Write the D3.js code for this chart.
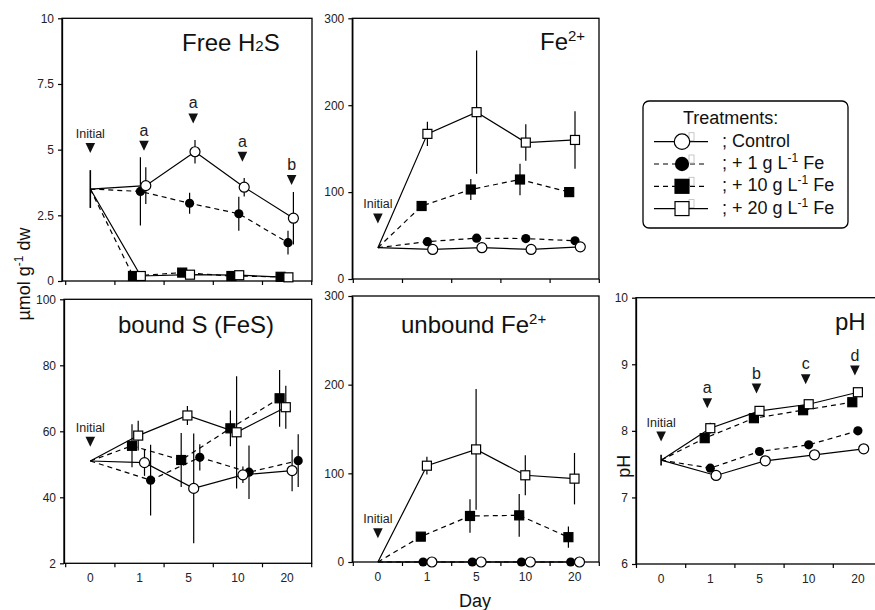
<!DOCTYPE html>
<html><head><meta charset="utf-8">
<script src="https://cdn.jsdelivr.net/npm/d3@7"></script>
<style>
body{margin:0;background:#fff}
svg{font-family:"Liberation Sans",Arial,sans-serif}
</style></head><body>
<svg width="875" height="610"></svg>
<script>
'use strict';
// categories
const days = ["0", "1", "5", "10", "20"]
const seriesKeys = ["control", "fe1", "fe10", "fe20"]
const seriesLabels = ["Control", "+ 1 g L", "+ 10 g L", "+ 20 g L"]

// Free H2S (umol g-1 dw)
const h2sInit = 3.5, h2sInitErr = 0.72
const h2sControl = [3.63, 4.92, 3.57, 2.39], h2sControlErr = [0.7, 0.45, 0.35, 1.0]
const h2sFe1 = [3.41, 2.96, 2.56, 1.46], h2sFe1Err = [1.3, 0.4, 0.65, 0.45]
const h2sFe10 = [0.19, 0.32, 0.19, 0.16], h2sFe10Err = [0.04, 0.04, 0.04, 0.03]
const h2sFe20 = [0.19, 0.24, 0.22, 0.14], h2sFe20Err = [0.04, 0.04, 0.04, 0.03]
const h2sLetters = ["a", "a", "a", "b"]
const h2sArrowAt = [4.96, 6.0, 4.54, 3.65], h2sInitArrowAt = 4.87

// Fe2+
const fe2Init = 36
const fe2Control = [34, 36, 34, 37], fe2ControlErr = [3, 3, 3, 3]
const fe2Fe1 = [43, 47, 46.5, 44], fe2Fe1Err = [3, 3, 3, 3]
const fe2Fe10 = [84, 103, 114.5, 100], fe2Fe10Err = [5, 12, 18, 4]
const fe2Fe20 = [167, 192, 157, 160], fe2Fe20Err = [14, 71, 21, 33]
const fe2InitArrowAt = 64

// bound S (FeS)
const boundInit = 51
const boundControl = [50.5, 42.7, 46.8, 48.1], boundControlErr = [4, 16.6, 2.5, 6.3]
const boundFe1 = [45.2, 52.1, 47.6, 51.1], boundFe1Err = [10.7, 4, 8.1, 8]
const boundFe10 = [55.6, 51.3, 60.9, 70.0], boundFe10Err = [6.5, 8.2, 5.4, 8.6]
const boundFe20 = [58.7, 64.8, 59.7, 67.3], boundFe20Err = [4.5, 2.9, 17, 6.5]
const boundInitArrowAt = 55.3

// unbound Fe2+
const unbInit = 0
const unbControl = [0, 0, 0, 0], unbControlErr = [0, 0, 0, 0]
const unbFe1 = [0, 0, 0, 0], unbFe1Err = [0, 0, 0, 0]
const unbFe10 = [28.6, 51.9, 52.6, 28], unbFe10Err = [4, 19, 24, 12]
const unbFe20 = [108.6, 127, 97.8, 94], unbFe20Err = [10, 68, 22.5, 29]
const unbInitArrowAt = 26.7

// pH
const phInit = 7.56, phInitErr = 0.08
const phControl = [7.33, 7.55, 7.64, 7.73], phControlErr = [0.03, 0.03, 0.03, 0.03]
const phFe1 = [7.44, 7.69, 7.79, 8.0], phFe1Err = [0.03, 0.03, 0.03, 0.03]
const phFe10 = [7.89, 8.19, 8.31, 8.43], phFe10Err = [0.03, 0.03, 0.03, 0.03]
const phFe20 = [8.04, 8.30, 8.40, 8.58], phFe20Err = [0.08, 0.04, 0.04, 0.04]
const phLetters = ["a", "b", "c", "d"]
const phArrowAt = [8.34, 8.56, 8.70, 8.83], phInitArrowAt = 7.84

const eSvg = d3.select("svg")
const bw = 49.2
const FONT = 12

// series draw order & styles
const drawOrder = ["fe10", "fe20", "fe1", "control"]
const dashOf = {control: null, fe1: "5,4", fe10: "5,4", fe20: null}

function marker(g, key, cx, cy, k) {
	k = k || 1
	if (key === "control")
		g.append("circle").attr("cx", cx).attr("cy", cy).attr("r", 5 * k)
			.attr("fill", "#fff").attr("stroke", "#000").attr("stroke-width", 1.2)
	else if (key === "fe1")
		g.append("circle").attr("cx", cx).attr("cy", cy).attr("r", 4.6 * k).attr("fill", "#000")
	else {
		let s = 9 * k
		g.append("rect").attr("x", cx - s/2).attr("y", cy - s/2).attr("width", s).attr("height", s)
			.attr("fill", key === "fe10" ? "#000" : "#fff")
			.attr("stroke", "#000").attr("stroke-width", 1.2)}}

const panels = [
	{init: h2sInit, initErr: h2sInitErr,
		vals: {control: h2sControl, fe1: h2sFe1, fe10: h2sFe10, fe20: h2sFe20},
		errs: {control: h2sControlErr, fe1: h2sFe1Err, fe10: h2sFe10Err, fe20: h2sFe20Err},
		yDomain: [0, 10], yTicks: [0, 2.5, 5, 7.5, 10], yFmt: d => d,
		ax: 62, bx: 65.7, top: 18.3, bottom: 281, right: 312, xLabels: false,
		dodge: {control: 6.3, fe1: 0.9, fe10: -6.5, fe20: 1.3},
		title: [["Free H", 24, 0], ["2", 15, 0], ["S", 24, 0]], tx: 182, ty: 51,
		initArrow: h2sInitArrowAt, arrows: h2sArrowAt, letters: h2sLetters, arrowDx: 4.5},
	{init: fe2Init, initErr: 0,
		vals: {control: fe2Control, fe1: fe2Fe1, fe10: fe2Fe10, fe20: fe2Fe20},
		errs: {control: fe2ControlErr, fe1: fe2Fe1Err, fe10: fe2Fe10Err, fe20: fe2Fe20Err},
		yDomain: [0, 300], yTicks: [0, 100, 200, 300], yFmt: d => d,
		ax: 352.3, bx: 353.3, top: 18.3, bottom: 279, right: 599, xLabels: false,
		dodge: {control: 5.6, fe1: 0.3, fe10: -5.5, fe20: 0.3},
		title: [["Fe", 24, 0], ["2+", 15, -9]], tx: 540, ty: 50,
		initArrow: fe2InitArrowAt},
	{init: boundInit, initErr: 0,
		vals: {control: boundControl, fe1: boundFe1, fe10: boundFe10, fe20: boundFe20},
		errs: {control: boundControlErr, fe1: boundFe1Err, fe10: boundFe10Err, fe20: boundFe20Err},
		yDomain: [20, 100], yTicks: [20, 40, 60, 80, 100], yFmt: d => d === 20 ? "2" : d,
		ax: 64, bx: 65.7, top: 299.3, bottom: 563.3, right: 311.7, xLabels: true,
		dodge: {control: 5, fe1: 11.1, fe10: -7.5, fe20: -1.3},
		title: [["bound S (FeS)", 24, 0]], tx: 118, ty: 333,
		initArrow: boundInitArrowAt},
	{init: unbInit, initErr: 0,
		vals: {control: unbControl, fe1: unbFe1, fe10: unbFe10, fe20: unbFe20},
		errs: {control: unbControlErr, fe1: unbFe1Err, fe10: unbFe10Err, fe20: unbFe20Err},
		yDomain: [0, 300], yTicks: [0, 100, 200, 300], yFmt: d => d,
		ax: 352.3, bx: 353.3, top: 296, bottom: 562, right: 599, xLabels: true,
		dodge: {control: 4.8, fe1: -4, fe10: -6.3, fe20: -0.2},
		title: [["unbound Fe", 24, 0], ["2+", 15, -9]], tx: 401, ty: 333,
		initArrow: unbInitArrowAt},
	{init: phInit, initErr: phInitErr,
		vals: {control: phControl, fe1: phFe1, fe10: phFe10, fe20: phFe20},
		errs: {control: phControlErr, fe1: phFe1Err, fe10: phFe10Err, fe20: phFe20Err},
		yDomain: [6, 10], yTicks: [6, 7, 8, 9, 10], yFmt: d => d,
		ax: 636, bx: 636.5, top: 297.7, bottom: 564, right: 884, xLabels: true,
		dodge: {control: 5.8, fe1: 0, fe10: -5.6, fe20: 0},
		title: [["pH", 24, 0]], tx: 835, ty: 330,
		initArrow: phInitArrowAt, arrows: phArrowAt, letters: phLetters, arrowDx: -3,
		yTitle: "pH"}
]

function triangle(g, cx, tipY) {
	g.append("path").attr("d", `M${cx - 4.8},${tipY - 10}L${cx + 4.8},${tipY - 10}L${cx},${tipY}Z`).attr("fill", "#111")}

function drawPanel(p) {
	let g = eSvg.append("g")
	let x = d3.scaleBand().domain(days).range([p.bx, p.bx + bw * days.length])
	let y = d3.scaleLinear().domain(p.yDomain).range([p.bottom, p.top])
	let cx = d => x(d) + x.bandwidth() / 2

	// frame
	g.append("rect").attr("x", p.ax).attr("y", p.top)
		.attr("width", p.right - p.ax).attr("height", p.bottom - p.top)
		.attr("fill", "none").attr("stroke", "#000").attr("stroke-width", 1.3)

	// y axis
	let gy = g.append("g").attr("transform", `translate(${p.ax},0)`)
		.call(d3.axisLeft(y).tickValues(p.yTicks).tickFormat(p.yFmt).tickSize(4).tickPadding(4).tickSizeOuter(0))
	// x axis: labels at band centres (bottom row only), ticks at band edges
	let gx = g.append("g").attr("transform", `translate(0,${p.bottom})`)
		.call(d3.axisBottom(x).tickSize(0).tickPadding(10))
	gx.select(".domain").remove()
	if (!p.xLabels) gx.selectAll(".tick").remove()
	let edges = d3.range(days.length + 1).map(i => p.bx + i * bw)
	gx.selectAll(".edge").data(edges).enter().append("line")
		.attr("x1", d => d).attr("x2", d => d).attr("y1", 0).attr("y2", 4)
		.attr("stroke", "#000").attr("stroke-width", 1.2)
	g.selectAll(".tick text").attr("font-size", FONT).attr("fill", "#222")
		.attr("font-family", "Liberation Sans, Arial, sans-serif")
	gy.select(".domain").attr("stroke-width", 1.3)
	gy.selectAll(".tick line").attr("stroke-width", 1.2)

	let x0 = cx("0"), y0 = y(p.init)
	let pts = {}
	seriesKeys.forEach(k => {
		pts[k] = p.vals[k].map((v, i) => ({
			x: cx(days[i + 1]) + p.dodge[k], y: y(v),
			lo: y(v - p.errs[k][i]), hi: y(v + p.errs[k][i])}))})

	// lines
	drawOrder.forEach(k => {
		let line = d3.line().x(d => d.x).y(d => d.y)
		g.append("path").datum([{x: x0, y: y0}].concat(pts[k]))
			.attr("d", line).attr("fill", "none").attr("stroke", "#000")
			.attr("stroke-width", 1.2).attr("stroke-dasharray", dashOf[k])})
	// initial error bar
	if (p.initErr) {
		g.append("line").attr("x1", x0).attr("x2", x0)
			.attr("y1", y(p.init - p.initErr)).attr("y2", y(p.init + p.initErr))
			.attr("stroke", "#000").attr("stroke-width", 1.6)}
	// error bars then markers
	drawOrder.forEach(k => {
		pts[k].forEach(d => {
			g.append("line").attr("x1", d.x).attr("x2", d.x).attr("y1", d.lo).attr("y2", d.hi)
				.attr("stroke", "#000").attr("stroke-width", 1.2)})})
	drawOrder.forEach(k => {
		pts[k].forEach(d => marker(g, k, d.x, d.y))})

	// "Initial" arrow
	let tip = y(p.initArrow)
	triangle(g, x0, tip)
	g.append("text").attr("x", x0).attr("y", tip - 15).attr("text-anchor", "middle")
		.attr("font-size", 12.5).attr("fill", "#222").text("Initial")
	// significance arrows
	if (p.arrows) {
		p.arrows.forEach((v, i) => {
			let ax = cx(days[i + 1]) + p.arrowDx, ty = y(v)
			triangle(g, ax, ty)
			g.append("text").attr("x", ax).attr("y", ty - 15).attr("text-anchor", "middle")
				.attr("font-size", 16).attr("fill", "#222").text(p.letters[i])})}

	// title
	let t = g.append("text").attr("x", p.tx).attr("y", p.ty).attr("fill", "#111")
	p.title.forEach(([s, fs, dy], i) => {
		let ts = t.append("tspan").attr("font-size", fs).text(s)
		if (dy) ts.attr("dy", dy)
		else if (i > 0 && p.title[i - 1][2]) ts.attr("dy", -p.title[i - 1][2])})

	if (p.yTitle) {
		g.append("text").attr("transform", `translate(${p.ax - 6},${(y(7) + y(8)) / 2 + 2}) rotate(-90)`)
			.attr("text-anchor", "middle").attr("font-size", 18).attr("fill", "#111").text(p.yTitle)}
}

panels.forEach(drawPanel)

// shared axis titles
let yt = eSvg.append("text").attr("transform", "translate(30,274) rotate(-90)")
	.attr("text-anchor", "middle").attr("font-size", 18).attr("fill", "#111")
yt.append("tspan").text("µmol g")
yt.append("tspan").attr("font-size", 12).attr("dy", -7).text("-1")
yt.append("tspan").attr("dy", 7).text(" dw")

eSvg.append("text").attr("x", 475).attr("y", 607).attr("text-anchor", "middle")
	.attr("font-size", 18).attr("fill", "#111").text("Day")

// legend
let eLeg = eSvg.append("g")
eLeg.append("rect").attr("x", 643).attr("y", 101).attr("width", 205).attr("height", 127)
	.attr("rx", 6).attr("fill", "#fff").attr("stroke", "#000").attr("stroke-width", 1.3)
eLeg.append("text").attr("x", 683).attr("y", 124).attr("font-size", 18).attr("fill", "#111").text("Treatments:")
seriesKeys.forEach((k, i) => {
	let ry = 141.7 + i * 22.3
	eLeg.append("line").attr("x1", 654).attr("x2", 708).attr("y1", ry).attr("y2", ry)
		.attr("stroke", "#000").attr("stroke-width", 1.2).attr("stroke-dasharray", dashOf[k])
	eLeg.append("rect").attr("x", 689).attr("y", ry - 9).attr("width", 5).attr("height", 8)
		.attr("fill", "none").attr("stroke", "#bbb").attr("stroke-width", 0.8)
	marker(eLeg, k, 682, ry, 1.55)
	let t = eLeg.append("text").attr("x", 722).attr("y", ry + 5).attr("font-size", 18).attr("fill", "#111")
	t.append("tspan").text("; " + seriesLabels[i])
	if (i > 0) {
		t.append("tspan").attr("font-size", 12).attr("dy", -7).text("-1")
		t.append("tspan").attr("dy", 7).text(" Fe")}})
</script>
</body></html>
